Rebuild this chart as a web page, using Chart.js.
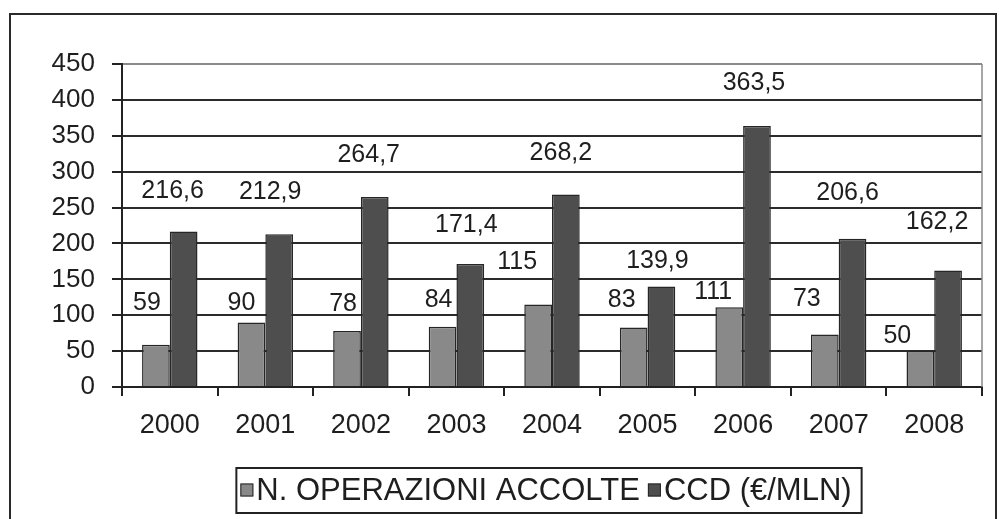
<!DOCTYPE html>
<html>
<head>
<meta charset="utf-8">
<script src="https://cdn.jsdelivr.net/npm/chart.js@4.4.1/dist/chart.umd.min.js"></script>
<style>
  html, body { margin:0; padding:0; background:#fff; }
</style>
</head>
<body>
<canvas id="mycanvas" width="999" height="519"></canvas>
<script>
var years = ['2000','2001','2002','2003','2004','2005','2006','2007','2008'];
var operazioni = [59, 90, 78, 84, 115, 83, 111, 73, 50];
var ccd = [216.6, 212.9, 264.7, 171.4, 268.2, 139.9, 363.5, 206.6, 162.2];
var yMin = 0, yMax = 450, yStep = 50;

// hand placed label nudges of the original, [dx, dy] from the bar top
var nudgeOp  = [[-9,-42],[-10,-19],[-4,-27],[-4,-27],[-21,-42],[-12,-27],[-16,-15],[-18,-35],[-23,-15]];
var nudgeCcd = [[-11,-40],[-9,-42],[-6,-42],[-4,-39],[-5,-41],[-4,-25],[-3,-43],[-5,-46],[-11,-48]];

var FONT = "'Liberation Sans', Arial, sans-serif";
var INK = '#1e1e1e';

function itNum(v){
	return String(v).replace('.', ',');
}

// excel style legend: boxed, small squares tight to the text
function drawLegend(chart){
	var ctx = chart.ctx;
	var a = chart.chartArea;
	var dsets = chart.data.datasets;
	var sq = 13, gapText = 3, gapItem = 8;
	ctx.save();
	ctx.font = '31px ' + FONT;
	var total = 0;
	dsets.forEach(function(ds, i){
		total += sq + gapText + ctx.measureText(ds.label).width + (i ? gapItem : 0);
	});
	var cy = a.bottom + 103;
	var x = (a.left + a.right) / 2 - 6 - total / 2;
	ctx.strokeStyle = '#222';
	ctx.lineWidth = 2;
	ctx.strokeRect(x - 4, cy - 22, total + 14, 45);
	ctx.textAlign = 'left';
	ctx.textBaseline = 'middle';
	dsets.forEach(function(ds, i){
		if (i) x += gapItem;
		ctx.fillStyle = ds.backgroundColor;
		ctx.fillRect(x, cy - sq/2, sq, sq);
		ctx.lineWidth = 1;
		ctx.strokeStyle = ds.borderColor;
		ctx.strokeRect(x + 0.5, cy - sq/2 + 0.5, sq - 1, sq - 1);
		x += sq + gapText;
		ctx.fillStyle = INK;
		ctx.fillText(ds.label, x, cy + 1);
		x += ctx.measureText(ds.label).width;
	});
	ctx.restore();
}

var extras = {
	id: 'extras',
	beforeDatasetsDraw: function(chart){
		// labels go under the bars, like the "78" hidden by its neighbour
		var ctx = chart.ctx;
		ctx.save();
		ctx.font = '25px ' + FONT;
		ctx.fillStyle = INK;
		ctx.textAlign = 'center';
		ctx.textBaseline = 'middle';
		var nudges = [nudgeOp, nudgeCcd];
		chart.data.datasets.forEach(function(ds, di){
			var meta = chart.getDatasetMeta(di);
			meta.data.forEach(function(bar, i){
				var n = nudges[di][i];
				ctx.fillText(itNum(ds.data[i]), bar.x + n[0], bar.y + n[1]);
			});
		});
		ctx.restore();
	},
	afterDraw: function(chart){
		var ctx = chart.ctx;
		var a = chart.chartArea;
		ctx.save();
		// right edge of plot area
		ctx.strokeStyle = '#8a8a8a';
		ctx.lineWidth = 1.5;
		ctx.beginPath();
		ctx.moveTo(a.right, a.top);
		ctx.lineTo(a.right, a.bottom);
		ctx.stroke();
		// outer frame
		ctx.strokeStyle = '#2a2a2a';
		ctx.lineWidth = 2;
		ctx.strokeRect(10, 14, 986, 520);
		ctx.restore();
		drawLegend(chart);
	}
};

var chartdata = {
	labels: years,
	datasets: [
		{
			label: 'N. OPERAZIONI ACCOLTE',
			backgroundColor: '#898989',
			borderColor: '#262626',
			borderWidth: 1.5,
			data: operazioni
		},
		{
			label: 'CCD (€/MLN)',
			backgroundColor: '#4e4e4e',
			borderColor: '#262626',
			borderWidth: 1.5,
			data: ccd
		}
	]
};

var ctx = document.getElementById('mycanvas');
var barGraph = new Chart(ctx, {
	type: 'bar',
	data: chartdata,
	plugins: [extras],
	options: {
		responsive: false,
		animation: false,
		layout: { padding: { top: 64, right: 17, bottom: 51, left: 0 } },
		datasets: { bar: { barPercentage: 1.0, categoryPercentage: 0.58 } },
		plugins: {
			tooltip: { enabled: false },
			legend: { display: false }
		},
		scales: {
			x: {
				afterFit: function(s){ s.height = 81; },
				grid: {
					drawOnChartArea: false,
					tickLength: 9,
					tickColor: '#222',
					lineWidth: 2
				},
				border: { color: '#222', width: 2 },
				ticks: { color: INK, font: { family: FONT, size: 27 }, padding: 13 }
			},
			y: {
				min: yMin,
				max: yMax,
				afterFit: function(s){ s.width = 122; },
				grid: {
					color: function(c){ return c.tick && c.tick.value === yMax ? '#8a8a8a' : '#2b2b2b'; },
					lineWidth: 2,
					tickLength: 10,
					tickColor: '#222'
				},
				border: { color: '#222', width: 2 },
				ticks: { stepSize: yStep, color: INK, font: { family: FONT, size: 26 }, padding: 17 }
			}
		}
	}
});
</script>
</body>
</html>
